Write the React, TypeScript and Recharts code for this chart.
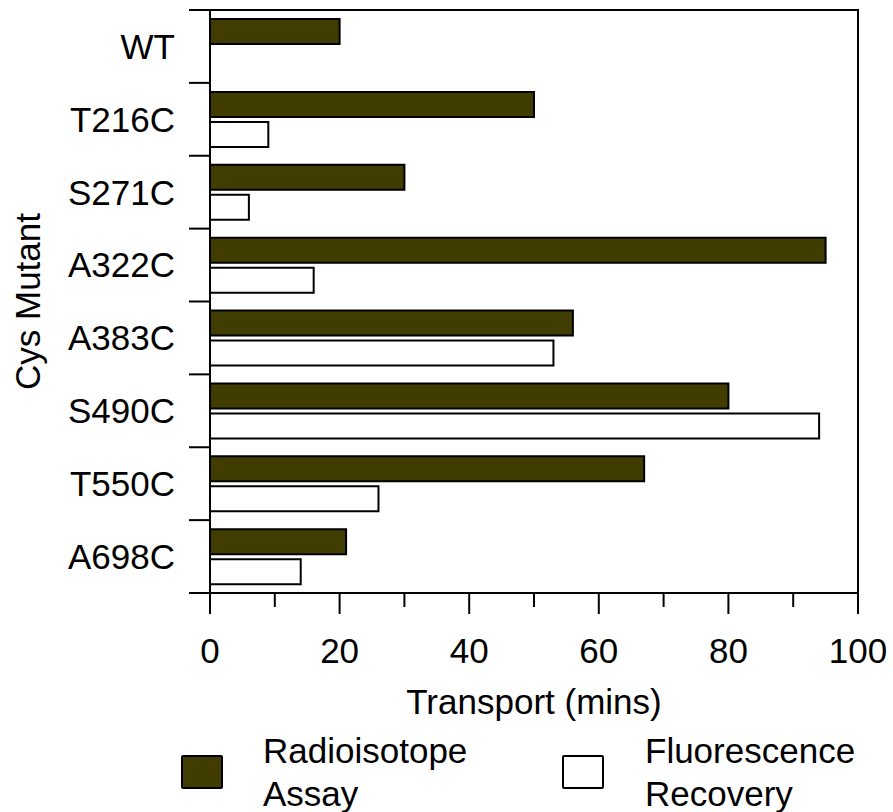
import { Bar, BarChart, Label, Legend, ReferenceArea, XAxis, YAxis } from "recharts";

const categories = ["WT", "T216C", "S271C", "A322C", "A383C", "S490C", "T550C", "A698C"];
const radioisotope = [20, 50, 30, 95, 56, 80, 67, 21];
const fluorescence = [null, 9, 6, 16, 53, 94, 26, 14];
const xTicks = [0, 10, 20, 30, 40, 50, 60, 70, 80, 90, 100];
const majorLabels = [0, 20, 40, 60, 80, 100];

const data = categories.map((name, i) => ({
  name,
  radio: radioisotope[i],
  fluor: fluorescence[i],
}));

const W = 893;
const H = 812;
const M = { top: 10, right: 35, left: 0, bottom: 0 };
const Y_W = 210;
const X_H = 219;
const PLOT_H = H - M.top - M.bottom - X_H;
const BAND = PLOT_H / categories.length;
const FONT = "'Liberation Sans', Arial, sans-serif";
const DARK = "#413d00";

function XTick({ x, y, payload }: any) {
  const major = majorLabels.includes(payload.value);
  return (
    <g>
      <line x1={x} x2={x} y1={y} y2={y + (major ? 21 : 14)} stroke="#000" strokeWidth={2} />
      {major && (
        <text x={x} y={y + 70} textAnchor="middle" fontSize={35} fontFamily={FONT} fill="#000">
          {payload.value}
        </text>
      )}
    </g>
  );
}

function YTick({ x, y, payload, index }: any) {
  const last = index === categories.length - 1;
  return (
    <g>
      <line x1={x - 21} x2={x} y1={y - BAND / 2} y2={y - BAND / 2} stroke="#000" strokeWidth={2} />
      {last && (
        <line x1={x - 21} x2={x} y1={y + BAND / 2} y2={y + BAND / 2} stroke="#000" strokeWidth={2} />
      )}
      <text x={x - 35} y={y} dy="0.355em" textAnchor="end" fontSize={35} fontFamily={FONT} fill="#000">
        {payload.value}
      </text>
    </g>
  );
}

function LegendBox() {
  const box = (fill: string, left: number) => (
    <div
      style={{
        position: "absolute",
        left,
        top: 26,
        width: 42,
        height: 34,
        boxSizing: "border-box",
        border: "2px solid #000",
        borderRadius: 2,
        background: fill,
      }}
    />
  );
  const txt = (lines: string[], left: number) => (
    <div
      style={{
        position: "absolute",
        left,
        top: 0,
        fontFamily: FONT,
        fontSize: 35,
        lineHeight: "43px",
        color: "#000",
        whiteSpace: "nowrap",
      }}
    >
      {lines.map((l) => (
        <div key={l}>{l}</div>
      ))}
    </div>
  );
  return (
    <div style={{ position: "relative", width: W, height: 86 }}>
      {box(DARK, 181)}
      {txt(["Radioisotope", "Assay"], 263)}
      {box("#fff", 562)}
      {txt(["Fluorescence", "Recovery"], 645)}
    </div>
  );
}

export default function App() {
  return (
    <div style={{ position: "absolute", left: 0, top: 0, background: "#fff" }}>
      <BarChart
        width={W}
        height={H}
        data={data}
        layout="vertical"
        margin={M}
        barCategoryGap={9}
        barGap={5}
      >
        <XAxis
          type="number"
          domain={[0, 100]}
          ticks={xTicks}
          interval={0}
          height={X_H}
          tickSize={0}
          tickMargin={0}
          tickLine={false}
          axisLine={{ stroke: "#000", strokeWidth: 2 }}
          tick={<XTick />}
        >
          <Label
            content={({ viewBox }: any) => (
              <text
                x={viewBox.x + viewBox.width / 2}
                y={viewBox.y + 121}
                textAnchor="middle"
                fontSize={35}
                fontFamily={FONT}
                fill="#000"
              >
                Transport (mins)
              </text>
            )}
          />
        </XAxis>
        <YAxis
          type="category"
          dataKey="name"
          width={Y_W}
          interval={0}
          tickSize={0}
          tickMargin={0}
          tickLine={false}
          axisLine={{ stroke: "#000", strokeWidth: 2 }}
          tick={<YTick />}
        >
          <Label
            content={({ viewBox }: any) => {
              const cy = viewBox.y + viewBox.height / 2;
              return (
                <text
                  x={40}
                  y={cy}
                  transform={`rotate(-90, 40, ${cy})`}
                  textAnchor="middle"
                  fontSize={35}
                  fontFamily={FONT}
                  fill="#000"
                >
                  Cys Mutant
                </text>
              );
            }}
          />
        </YAxis>
        <ReferenceArea
          x1={0}
          x2={100}
          fill="none"
          fillOpacity={0}
          stroke="#000"
          strokeWidth={2}
        />
        <Legend
          layout="vertical"
          align="center"
          verticalAlign="middle"
          wrapperStyle={{ top: 729, left: 0, width: W }}
          content={() => <LegendBox />}
        />
        <Bar
          dataKey="radio"
          name="Radioisotope Assay"
          fill={DARK}
          stroke="#000"
          strokeWidth={2}
          isAnimationActive={false}
        />
        <Bar
          dataKey="fluor"
          name="Fluorescence Recovery"
          fill="#fff"
          stroke="#000"
          strokeWidth={2}
          isAnimationActive={false}
        />
      </BarChart>
    </div>
  );
}
